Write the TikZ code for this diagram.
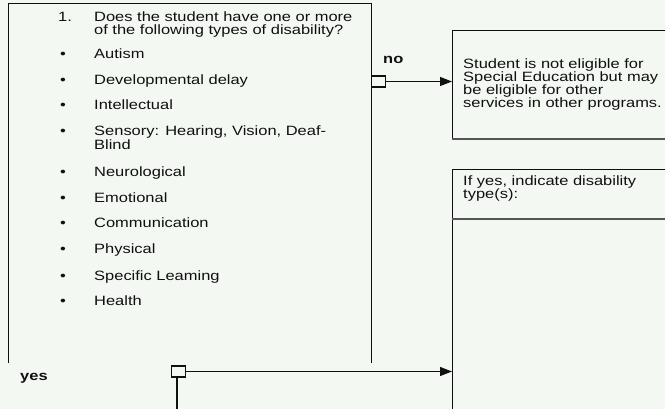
\documentclass[tikz,border=0pt]{standalone}
\usepackage{fontspec}
\setmainfont[FakeStretch=1.22]{Liberation Sans}
\usetikzlibrary{arrows.meta}
\definecolor{paper}{HTML}{F4F8F3}
\definecolor{ink}{HTML}{101010}
\definecolor{rule}{HTML}{555555}
\tikzstyle{label} = [anchor=base west, inner sep=0pt, text=ink, font=\fontsize{13.5}{13}\selectfont]
\tikzstyle{answer} = [label, font=\fontsize{13.5}{13}\selectfont\bfseries]
\tikzstyle{frame} = [rectangle, draw=ink, line width=1pt, anchor=north west, inner sep=0pt]
\tikzstyle{joint} = [rectangle, draw=ink, line width=1.2pt, minimum width=14pt, minimum height=11pt, inner sep=0pt, anchor=west]
\tikzstyle{connector} = [draw=ink, line width=1pt, -{Triangle[length=12pt,width=9pt]}]

\begin{document}
\begin{tikzpicture}[x=1pt,y=-1pt]
    \useasboundingbox (0,0) rectangle (665,409);
    \fill[paper] (0,0) rectangle (665,409);
    \clip (0,0) rectangle (665,409);
    % question box, open at the bottom
    \coordinate (q-bl) at (8,363);
    \coordinate (q-br) at (371,363);
    \draw[ink,line width=1pt] (q-bl) |- (371,4) -- (q-br);
    \node (q-num) [label] at (58,22) {1.};
    \node (q-line1) [label] at (94,22) {Does the student have one or more};
    \node (q-line2) [label] at (94,35) {of the following types of disability?};
    \foreach \txt/\yy [count=\i] in {Autism/59, Developmental delay/84.5, Intellectual/110,
        {Sensory: Hearing, Vision, Deaf-}/135.5, Neurological/177, Emotional/202.5,
        Communication/228, Physical/254, Specific Leaming/280, Health/305.5}{
        \node (dot-\i) [label] at (60,\yy) {\textbullet};
        \node (item-\i) [label] at (94,\yy) {\txt};
    }
    \node (item-4b) [label] at (94,150) {Blind};
    % outcome boxes
    \node (ineligible) [frame, minimum width=240pt, minimum height=109pt] at (452,30) {};
    \draw[rule,line width=1.4pt] (452,139) -- (700,139);
    \node (inel-1) [label] at (463,69) {Student is not eligible for};
    \node (inel-2) [label] at (463,82) {Special Education but may};
    \node (inel-3) [label] at (463,95) {be eligible for other};
    \node (inel-4) [label] at (463,108) {services in other programs.};
    \node (dtype) [frame, minimum width=240pt, minimum height=260pt] at (452,169) {};
    \draw[rule,line width=1.6pt] (452,219) -- (700,219);
    \node (dtype-1) [label] at (463,186) {If yes, indicate disability};
    \node (dtype-2) [label] at (463,199) {type(s):};
    % branches
    \node (no-joint) [joint] at (371,81.5) {};
    \node (no-text) [answer] at (383,64) {no};
    \draw[connector] (no-joint.east) -- (ineligible.west |- no-joint.east);
    \node (yes-joint) [joint] at (171,371.5) {};
    \node (yes-text) [answer] at (20,380) {yes};
    \draw[connector] (yes-joint.east) -- (dtype.west |- yes-joint.east);
    \coordinate (yes-in) at (177,420);
    \draw[ink,line width=1.2pt] (yes-in) -- (yes-in |- yes-joint.south);
\end{tikzpicture}
\end{document}
